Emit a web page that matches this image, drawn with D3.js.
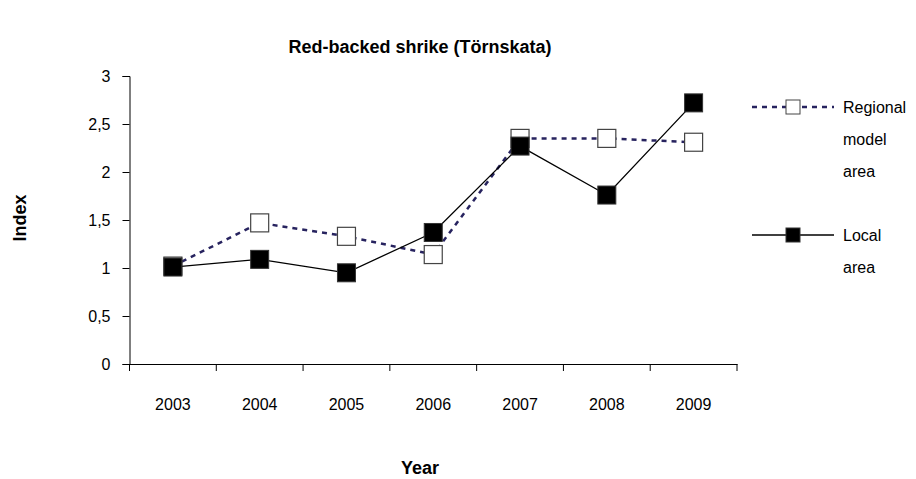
<!DOCTYPE html>
<html>
<head>
<meta charset="utf-8">
<script src="https://cdn.jsdelivr.net/npm/d3@7"></script>
<style>
  body { margin: 0; background: #fff; }
  svg text { font-family: "Liberation Sans", Arial, sans-serif; fill: #000; }
</style>
</head>
<body>
<div id="chart"></div>
<script>
// data
var years = ["2003", "2004", "2005", "2006", "2007", "2008", "2009"]
var regional = [1.02, 1.47, 1.33, 1.14, 2.35, 2.35, 2.31]
var local = [1.01, 1.09, 0.95, 1.37, 2.27, 1.76, 2.72]
var yTicks = [0, 0.5, 1, 1.5, 2, 2.5, 3]
var legendRegional = ["Regional", "model", "area"]
var legendLocal = ["Local", "area"]

var W = 916, H = 479
var margin = {top: 76, left: 129.5, right: 179, bottom: 115}

var svg = d3.select("#chart").append("svg")
  .attr("width", W)
  .attr("height", H)

var x = d3.scaleBand()
  .domain(years)
  .range([margin.left, W - margin.right])

var y = d3.scaleLinear()
  .domain([0, 3])
  .range([H - margin.bottom, margin.top])

// title
svg.append("text")
  .attr("x", 420).attr("y", 53)
  .attr("text-anchor", "middle")
  .style("font-size", "18px").style("font-weight", "bold")
  .text("Red-backed shrike (Törnskata)")

// y axis
var yAxis = svg.append("g")
  .attr("transform", "translate(" + margin.left + ",0)")
  .call(d3.axisLeft(y).tickValues(yTicks).tickSize(7).tickPadding(12)
    .tickFormat(function(d) { return String(d).replace(".", ",") }))
yAxis.selectAll("text").style("font-size", "16px")

// x axis: labels only, boundary ticks drawn by hand
var xAxis = svg.append("g")
  .attr("transform", "translate(0," + y(0) + ")")
  .call(d3.axisBottom(x).tickSize(0).tickPadding(35))
xAxis.selectAll("text").style("font-size", "16px")
var bounds = years.map(function(d) { return x(d) }).concat([x.range()[1]])
xAxis.selectAll(".bnd")
  .data(bounds)
  .enter()
  .append("line")
    .attr("x1", function(d) { return d }).attr("x2", function(d) { return d })
    .attr("y1", 0).attr("y2", 7)
    .attr("stroke", "#000")

svg.selectAll(".domain").attr("stroke", "#000")
svg.selectAll(".tick line").attr("stroke", "#000")

// axis titles
svg.append("text")
  .attr("x", 420).attr("y", 474)
  .attr("text-anchor", "middle")
  .style("font-size", "18px").style("font-weight", "bold")
  .text("Year")
svg.append("text")
  .attr("transform", "translate(26,218) rotate(-90)")
  .attr("text-anchor", "middle")
  .style("font-size", "18px").style("font-weight", "bold")
  .text("Index")

var cx = function(d, i) { return x(years[i]) + x.bandwidth() / 2 }
var line = d3.line()
  .x(cx)
  .y(function(d) { return y(d) })

var ms = 18

// regional model area
svg.append("path")
  .datum(regional)
  .attr("d", line)
  .attr("fill", "none")
  .attr("stroke", "#27235f")
  .attr("stroke-width", 2.5)
  .attr("stroke-dasharray", "5,5")
svg.selectAll(".reg")
  .data(regional)
  .enter()
  .append("rect")
    .attr("x", function(d, i) { return cx(d, i) - ms / 2 })
    .attr("y", function(d) { return y(d) - ms / 2 })
    .attr("width", ms).attr("height", ms)
    .attr("fill", "#fff")
    .attr("stroke", "#444")
    .attr("stroke-width", 1.2)

// local area
svg.append("path")
  .datum(local)
  .attr("d", line)
  .attr("fill", "none")
  .attr("stroke", "#000")
  .attr("stroke-width", 1.3)
svg.selectAll(".loc")
  .data(local)
  .enter()
  .append("rect")
    .attr("x", function(d, i) { return cx(d, i) - ms / 2 })
    .attr("y", function(d) { return y(d) - ms / 2 })
    .attr("width", ms).attr("height", ms)
    .attr("fill", "#000")
    .attr("stroke", "#333")
    .attr("stroke-width", 1)

// legend
var lg = svg.append("g")
var lm = 14
function legendEntry(yy, lines, dashed) {
  lg.append("line")
    .attr("x1", 752).attr("x2", 834)
    .attr("y1", yy).attr("y2", yy)
    .attr("stroke", dashed ? "#27235f" : "#000")
    .attr("stroke-width", dashed ? 2.5 : 1.3)
    .attr("stroke-dasharray", dashed ? "5,5" : null)
  lg.append("rect")
    .attr("x", 793 - lm / 2).attr("y", yy - lm / 2)
    .attr("width", lm).attr("height", lm)
    .attr("fill", dashed ? "#fff" : "#000")
    .attr("stroke", dashed ? "#444" : "#333")
  lines.forEach(function(t, i) {
    lg.append("text")
      .attr("x", 843).attr("y", yy + 6 + i * 32)
      .style("font-size", "16px")
      .text(t)
  })
}
legendEntry(107, legendRegional, true)
legendEntry(235, legendLocal, false)
</script>
</body>
</html>
